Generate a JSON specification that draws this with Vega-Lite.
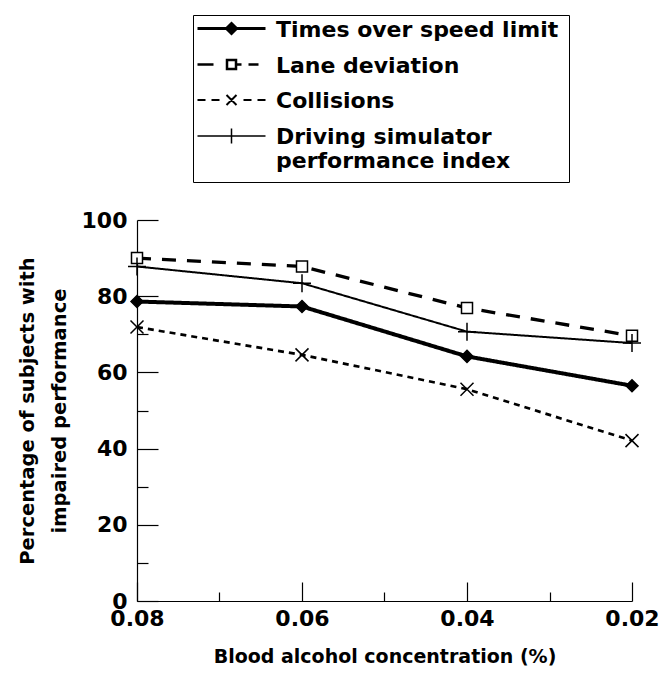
{
  "$schema": "https://vega.github.io/schema/vega-lite/v6.json",
  "width": 495,
  "height": 381,
  "autosize": {"type": "none"},
  "padding": {"left": 137, "top": 220, "right": 28, "bottom": 72},
  "background": "white",
  "config": {
    "view": {"stroke": null},
    "font": "DejaVu Sans",
    "axis": {"grid": false, "domainColor": "black", "domainWidth": 1.2, "tickColor": "black", "tickWidth": 1.2, "labelColor": "black", "titleColor": "black", "labelFont": "DejaVu Sans", "titleFont": "DejaVu Sans", "labelFontWeight": "bold", "titleFontWeight": "bold", "labelOverlap": false},
    "legend": {
      "strokeColor": "black",
      "fillColor": "white",
      "padding": 10,
      "symbolSize": 400,
      "symbolOffset": 17,
      "symbolOpacity": 1,
      "labelFont": "DejaVu Sans",
      "labelFontSize": 22,
      "labelFontWeight": "bold",
      "labelColor": "black",
      "labelOffset": 33,
      "labelBaseline": "alphabetic",
      "labelLimit": 400,
      "rowPadding": 13
    }
  },
  "data": {
    "values": [
      {"series": "Times over speed limit", "marker": "diamond", "bac": 0.08, "pct": 78.6},
      {"series": "Times over speed limit", "marker": "diamond", "bac": 0.06, "pct": 77.3},
      {"series": "Times over speed limit", "marker": "diamond", "bac": 0.04, "pct": 64.2},
      {"series": "Times over speed limit", "marker": "diamond", "bac": 0.02, "pct": 56.5},
      {"series": "Lane deviation", "marker": "square", "bac": 0.08, "pct": 90.0},
      {"series": "Lane deviation", "marker": "square", "bac": 0.06, "pct": 87.8},
      {"series": "Lane deviation", "marker": "square", "bac": 0.04, "pct": 76.9},
      {"series": "Lane deviation", "marker": "square", "bac": 0.02, "pct": 69.6},
      {"series": "Collisions", "marker": "cross", "bac": 0.08, "pct": 71.9},
      {"series": "Collisions", "marker": "cross", "bac": 0.06, "pct": 64.6},
      {"series": "Collisions", "marker": "cross", "bac": 0.04, "pct": 55.6},
      {"series": "Collisions", "marker": "cross", "bac": 0.02, "pct": 42.1},
      {"series": "Driving simulator performance index", "marker": "plus", "bac": 0.08, "pct": 87.8},
      {"series": "Driving simulator performance index", "marker": "plus", "bac": 0.06, "pct": 83.4},
      {"series": "Driving simulator performance index", "marker": "plus", "bac": 0.04, "pct": 70.7},
      {"series": "Driving simulator performance index", "marker": "plus", "bac": 0.02, "pct": 67.7}
    ]
  },
  "encoding": {
    "x": {
      "field": "bac", "type": "quantitative",
      "scale": {"domain": [0.02, 0.08], "reverse": true, "nice": false, "zero": false},
      "axis": {
        "values": [0.08, 0.07, 0.06, 0.05, 0.04, 0.03, 0.02],
        "labelExpr": "round(datum.value*100) % 2 == 1 ? '' : format(datum.value, '.2f')",
        "tickSize": {"condition": {"test": "round(datum.value*100) % 2 == 1", "value": -9}, "value": -19},
        "labelFontSize": 22,
        "labelFlush": false,
        "labelPadding": 26,
        "title": "Blood alcohol concentration (%)",
        "titleFontSize": 19,
        "titlePadding": 8
      }
    },
    "y": {
      "field": "pct", "type": "quantitative",
      "scale": {"domain": [0, 100], "nice": false},
      "axis": {
        "values": [0, 10, 20, 30, 40, 50, 60, 70, 80, 90, 100],
        "labelExpr": "datum.value % 20 == 0 ? datum.label : ''",
        "tickSize": {"condition": {"test": "datum.value % 20 != 0", "value": -11}, "value": -21},
        "labelFontSize": 22,
        "labelPadding": 31,
        "title": ["Percentage of subjects with", "impaired performance"],
        "titleFontSize": 19.5,
        "titleLineHeight": 32,
        "titlePadding": 12
      }
    }
  },
  "layer": [
    {
      "mark": {"type": "line", "color": "black"},
      "encoding": {
        "strokeDash": {
          "field": "marker", "type": "nominal",
          "scale": {"domain": ["diamond", "square", "cross", "plus"], "range": [[1, 0], [14, 11], [6, 5], [1, 0]]},
          "legend": null
        },
        "size": {
          "field": "marker", "type": "nominal",
          "scale": {"domain": ["diamond", "square", "cross", "plus"], "range": [4, 2, 2, 1.5]},
          "legend": null
        }
      }
    },
    {
      "transform": [{"filter": "datum.marker == 'diamond'"}],
      "mark": {"type": "point", "shape": "M0,-1L1,0L0,1L-1,0Z", "size": 144, "filled": true, "fill": "black", "stroke": "black", "strokeWidth": 1.5, "opacity": 1}
    },
    {
      "transform": [{"filter": "datum.marker == 'square'"}],
      "mark": {"type": "point", "shape": "M-1,-1H1V1H-1Z", "size": 121, "filled": true, "fill": "white", "stroke": "black", "strokeWidth": 1.5, "opacity": 1}
    },
    {
      "transform": [{"filter": "datum.marker == 'cross'"}],
      "mark": {"type": "point", "shape": "M-1,-1L1,1M-1,1L1,-1", "size": 169, "filled": false, "stroke": "black", "strokeWidth": 1.5, "opacity": 1}
    },
    {
      "transform": [{"filter": "datum.marker == 'plus'"}],
      "mark": {"type": "point", "shape": "M-1,0H1M0,-1V1", "size": 324, "filled": false, "stroke": "black", "strokeWidth": 1.5, "opacity": 1}
    },
    {
      "mark": {"type": "point", "stroke": "black", "opacity": 0},
      "encoding": {
        "shape": {
          "field": "series", "type": "nominal",
          "scale": {
            "domain": ["Times over speed limit", "Lane deviation", "Collisions", "Driving simulator performance index"],
            "range": [
              "M-3.4,-0.8H3.4M0,-1.3L0.5,-0.8L0,-0.3L-0.5,-0.8Z",
              "M-3.4,-0.8H-1.8M-0.45,-1.25H0.45V-0.35H-0.45ZM0.45,-0.8H1M1.7,-0.8H2.7",
              "M-3.4,-0.8H-2.6M-2,-0.8H-1.2M-0.5,-1.3L0.5,-0.3M-0.5,-0.3L0.5,-1.3M1.2,-0.8H2M2.6,-0.8H3.4",
              "M-3.4,-0.8H3.4M0,-1.55V-0.05"
            ]
          },
          "legend": {
            "orient": "none", "legendX": 56, "legendY": -205, "title": null,
            "labelExpr": "datum.label == 'Driving simulator performance index' ? ['Driving simulator', 'performance index'] : datum.label"
          }
        },
        "fill": {
          "field": "series", "type": "nominal",
          "scale": {
            "domain": ["Times over speed limit", "Lane deviation", "Collisions", "Driving simulator performance index"],
            "range": ["black", "white", "transparent", "transparent"]
          },
          "legend": {
            "orient": "none", "legendX": 56, "legendY": -205, "title": null,
            "labelExpr": "datum.label == 'Driving simulator performance index' ? ['Driving simulator', 'performance index'] : datum.label"
          }
        },
        "strokeWidth": {
          "field": "series", "type": "nominal",
          "scale": {
            "domain": ["Times over speed limit", "Lane deviation", "Collisions", "Driving simulator performance index"],
            "range": [3, 1.5, 1.5, 1.5]
          },
          "legend": {
            "orient": "none", "legendX": 56, "legendY": -205, "title": null,
            "labelExpr": "datum.label == 'Driving simulator performance index' ? ['Driving simulator', 'performance index'] : datum.label"
          }
        }
      }
    }
  ]
}
